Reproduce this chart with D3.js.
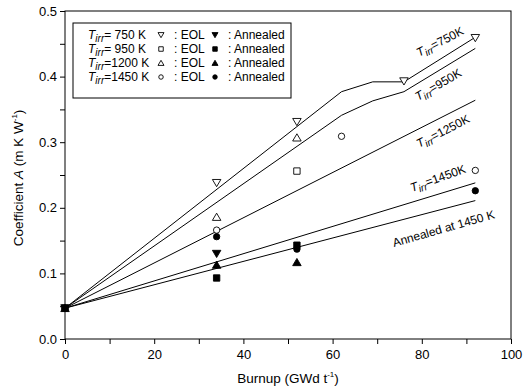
<!DOCTYPE html>
<html lang="en">
<head>
<meta charset="UTF-8">
<title>Coefficient A vs Burnup</title>
<script src="https://d3js.org/d3.v7.min.js"></script>
<style>
  body { margin: 0; background: #fff; }
  svg { font-family: "Liberation Sans", Arial, sans-serif; }
</style>
</head>
<body>
<svg id="chart" width="529" height="392"></svg>
<script>
// measured points [burnup, A]
const eol750  = [[34, 0.238], [52, 0.331], [76, 0.393], [92, 0.459]];
const eol950  = [[52, 0.256]];
const eol1200 = [[34, 0.186], [52, 0.307]];
const eol1450 = [[34, 0.166], [62, 0.309], [92, 0.257]];
const ann750  = [[0, 0.047], [34, 0.130]];
const ann950  = [[0, 0.047], [34, 0.093], [52, 0.143]];
const ann1200 = [[0, 0.047], [34, 0.113], [52, 0.117]];
const ann1450 = [[0, 0.047], [34, 0.156], [52, 0.137], [92, 0.226]];

// model curves
const fit750  = [[0, 0.047], [62, 0.377], [69, 0.392], [76, 0.392], [92, 0.460]];
const fit950  = [[0, 0.047], [62, 0.341], [69, 0.363], [76, 0.377], [92, 0.443]];
const fit1250 = [[0, 0.047], [92, 0.364]];
const fit1450 = [[0, 0.047], [92, 0.238]];
const fitAnn  = [[0, 0.047], [92, 0.211]];

const xTicks = [0, 20, 40, 60, 80, 100];
const yTicks = [0.0, 0.1, 0.2, 0.3, 0.4, 0.5];

const svg = d3.select("#chart");
const x = d3.scaleLinear().domain([0, 100]).range([65, 511]);
const y = d3.scaleLinear().domain([0, 0.5]).range([339, 11]);

// frame
svg.append("rect").attr("x", 65).attr("y", 11).attr("width", 446).attr("height", 328)
  .attr("fill", "none").attr("stroke", "#000").attr("stroke-width", 1);

// x axis
const xAxis = svg.append("g").attr("transform", "translate(0,339)")
  .call(d3.axisBottom(x).tickValues(d3.range(0, 101, 10)).tickSize(5)
    .tickFormat(d => xTicks.includes(d) ? d : ""));
xAxis.select(".domain").remove();
xAxis.selectAll("text").attr("font-size", 13).attr("font-family", "Liberation Sans, Arial").attr("dy", "0.9em");

// y axis
const yAxis = svg.append("g").attr("transform", "translate(65,0)")
  .call(d3.axisLeft(y).tickValues(d3.range(0, 0.501, 0.05)).tickSize(5)
    .tickFormat(d => yTicks.some(t => Math.abs(t - d) < 1e-6) ? d3.format(".1f")(d) : ""));
yAxis.select(".domain").remove();
yAxis.selectAll("text").attr("font-size", 13).attr("font-family", "Liberation Sans, Arial");

// axis titles
const xt = svg.append("text").attr("x", 288).attr("y", 383).attr("text-anchor", "middle").attr("font-size", 13.5);
xt.append("tspan").text("Burnup (GWd t");
xt.append("tspan").text("-1").attr("font-size", 8).attr("dy", -6);
xt.append("tspan").text(")").attr("dy", 6);

const yt = svg.append("text").attr("transform", "translate(23,178) rotate(-90)")
  .attr("text-anchor", "middle").attr("font-size", 13.5);
yt.append("tspan").text("Coefficient ");
yt.append("tspan").text("A").attr("font-style", "italic");
yt.append("tspan").text(" (m K W");
yt.append("tspan").text("-1").attr("font-size", 8).attr("dy", -6);
yt.append("tspan").text(")").attr("dy", 6);

// curves
const line = d3.line().x(d => x(d[0])).y(d => y(d[1]));
[fit750, fit950, fit1250, fit1450, fitAnn].forEach(s => {
  svg.append("path").attr("d", line(s)).attr("fill", "none").attr("stroke", "#000").attr("stroke-width", 1);
});

// markers
function marker(g, type, filled, cx, cy, s) {
  let p;
  const h = s / 2;
  if (type === "down") p = `M${cx - h},${cy - h * 0.8}L${cx + h},${cy - h * 0.8}L${cx},${cy + h * 0.9}Z`;
  else if (type === "up") p = `M${cx - h},${cy + h * 0.8}L${cx + h},${cy + h * 0.8}L${cx},${cy - h * 0.9}Z`;
  else if (type === "square") { const q = h * 0.75; p = `M${cx - q},${cy - q}h${2 * q}v${2 * q}h${-2 * q}Z`; }
  if (type === "circle") {
    g.append("circle").attr("cx", cx).attr("cy", cy).attr("r", h * 0.75)
      .attr("fill", filled ? "#000" : "#fff").attr("stroke", "#000").attr("stroke-width", 0.9);
  } else {
    g.append("path").attr("d", p).attr("fill", filled ? "#000" : "#fff").attr("stroke", "#000").attr("stroke-width", 0.9);
  }
}

const series = [
  [eol750, "down", false], [eol950, "square", false], [eol1200, "up", false], [eol1450, "circle", false],
  [ann750, "down", true], [ann950, "square", true], [ann1200, "up", true], [ann1450, "circle", true]
];
const pts = svg.append("g");
series.forEach(([data, type, filled]) => {
  data.forEach(d => marker(pts, type, filled, x(d[0]), y(d[1]), 8.5));
});

// curve labels
function tLabel(tx, ty, angle, rest) {
  const t = svg.append("text").attr("transform", `translate(${tx},${ty}) rotate(${angle})`).attr("font-size", 12);
  t.append("tspan").text("T").attr("font-style", "italic");
  t.append("tspan").text("irr").attr("font-style", "italic").attr("font-size", 10).attr("dy", 3);
  t.append("tspan").text(rest).attr("dy", -3);
}
tLabel(419, 57, -27, "=750K");
tLabel(418, 101, -30, "=950K");
tLabel(419, 148, -27, "=1250K");
tLabel(412, 192, -20, "=1450K");
svg.append("text").attr("transform", "translate(394,247) rotate(-16)").attr("font-size", 12).text("Annealed at 1450 K");

// legend
const leg = svg.append("g");
leg.append("rect").attr("x", 73).attr("y", 23).attr("width", 218).attr("height", 75)
  .attr("fill", "#fff").attr("stroke", "#000").attr("stroke-width", 1);
const legTemps = ["= 750 K", "= 950 K", "=1200 K", "=1450 K"];
const legTypes = ["down", "square", "up", "circle"];
legTemps.forEach((txt, i) => {
  const cy = 35 + i * 14;
  const t = leg.append("text").attr("x", 88).attr("y", cy + 4).attr("font-size", 12);
  t.append("tspan").text("T").attr("font-style", "italic");
  t.append("tspan").text("irr").attr("font-style", "italic").attr("font-size", 10).attr("dy", 3);
  t.append("tspan").text(txt).attr("dy", -3);
  marker(leg, legTypes[i], false, 161, cy, 6);
  leg.append("text").attr("x", 174).attr("y", cy + 4).attr("font-size", 12).text(": EOL");
  marker(leg, legTypes[i], true, 215, cy, 6);
  leg.append("text").attr("x", 228).attr("y", cy + 4).attr("font-size", 12).text(": Annealed");
});
</script>
</body>
</html>
